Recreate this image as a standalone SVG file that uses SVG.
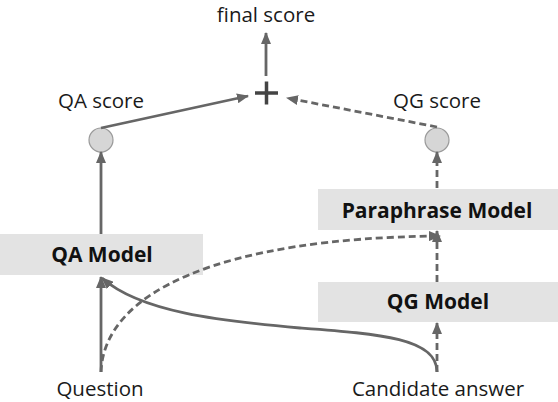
<svg xmlns="http://www.w3.org/2000/svg" width="558" height="402" viewBox="0 0 558 402">
<style>
.lbl{font-family:"Open Sans","Noto Sans","DejaVu Sans",sans-serif;font-size:20.5px;fill:#1a1a1a;text-anchor:middle}
.bold{font-family:"Open Sans","Noto Sans","DejaVu Sans",sans-serif;font-size:21px;font-weight:bold;fill:#111;text-anchor:middle}
.box{fill:#e3e3e3;stroke:none}
.ln{fill:none;stroke:#666;stroke-width:2.8}
.dash{stroke-dasharray:7 4}
.circ{fill:#d6d6d6;stroke:#9a9a9a;stroke-width:1.2}
</style>
<defs>
<marker id="ah" markerUnits="userSpaceOnUse" markerWidth="12" markerHeight="10" refX="11" refY="5" orient="auto">
<path d="M0,0 L12,5 L0,10 Z" fill="#666"/>
</marker>
</defs>
<rect width="558" height="402" fill="#fff"/>
<g id="final"><text class="lbl" x="266" y="22">final score</text></g>
<g id="plus"><path d="M255,93 H278 M266.5,81.5 V104.5" stroke="#444" stroke-width="3.5" fill="none"/></g>
<g id="qa-score"><text class="lbl" x="101" y="108">QA score</text><circle class="circ" cx="101" cy="140" r="12"/></g>
<g id="qg-score"><text class="lbl" x="437" y="108">QG score</text><circle class="circ" cx="437" cy="140" r="12"/></g>
<g id="paraphrase"><rect class="box" x="318" y="189" width="240" height="41"/><text class="bold" x="437" y="218">Paraphrase Model</text></g>
<g id="qa-model"><rect class="box" x="0" y="234" width="203" height="41"/><text class="bold" x="102" y="262">QA Model</text></g>
<g id="qg-model"><rect class="box" x="318" y="282" width="240" height="40"/><text class="bold" x="438" y="309">QG Model</text></g>
<g id="question"><text class="lbl" x="100" y="396">Question</text></g>
<g id="candidate"><text class="lbl" x="438" y="396">Candidate answer</text></g>
<g id="connectors">
<path class="ln" d="M266,76 V33" marker-end="url(#ah)"/>
<path class="ln" d="M101,128 L248,96" marker-end="url(#ah)"/>
<path class="ln dash" d="M437,127 L287,98" marker-end="url(#ah)"/>
<path class="ln" d="M101,234 V152" marker-end="url(#ah)"/>
<path class="ln dash" d="M437,188 V152" marker-end="url(#ah)"/>
<path class="ln dash" d="M437,282 V231" marker-end="url(#ah)"/>
<path class="ln dash" d="M437,372 V323" marker-end="url(#ah)"/>
<path class="ln" d="M101,372 V277" marker-end="url(#ah)"/>
<path class="ln" d="M437,372 C437,338 380,334 300,328 C220,321 140,312 102,278" marker-end="url(#ah)"/>
<path class="ln dash" d="M101,372 C104,292 220,238 440,236" marker-end="url(#ah)"/>
</g>
</svg>
